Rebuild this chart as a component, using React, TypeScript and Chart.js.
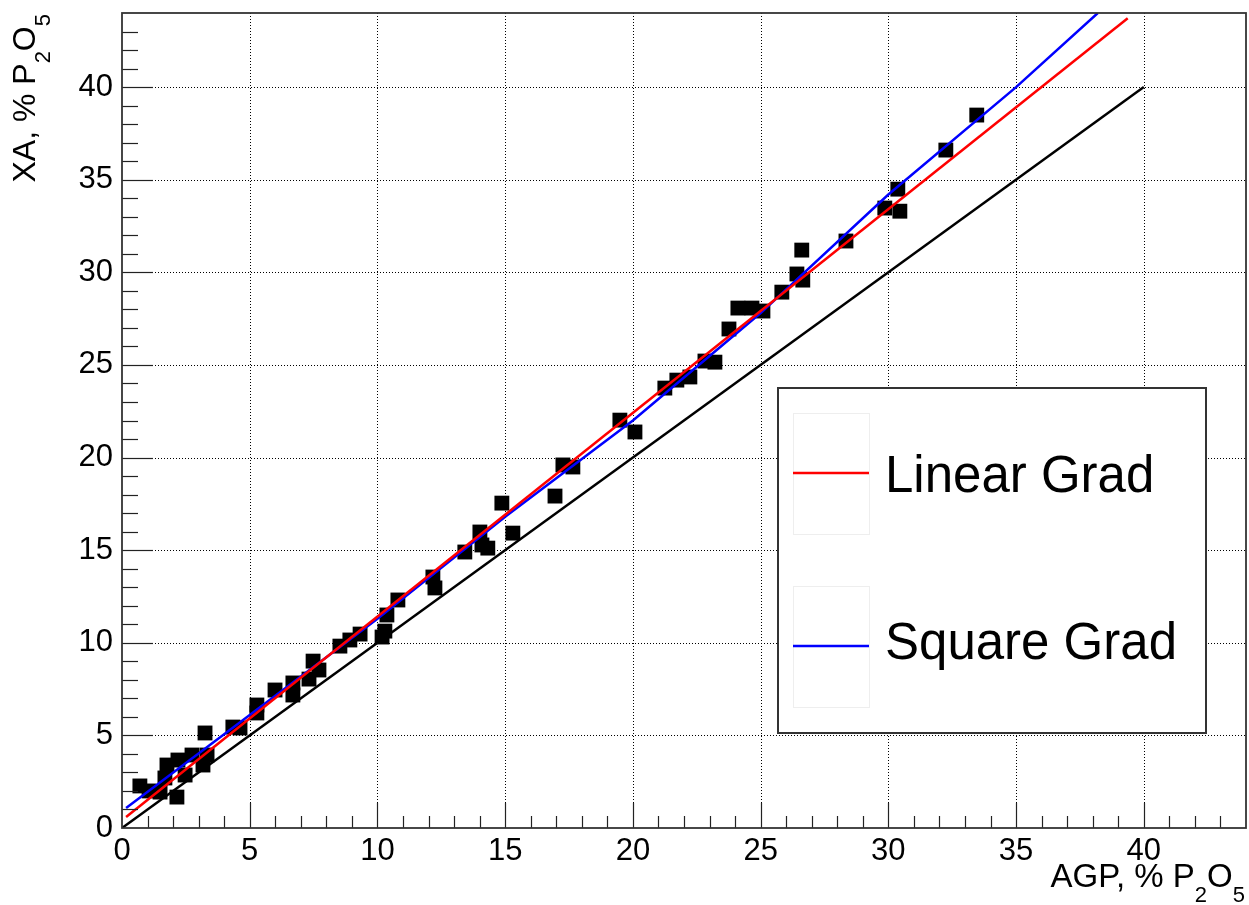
import React, { useEffect, useRef } from "react";
import { Chart, registerables } from "chart.js";

Chart.register(...registerables);

// Measured points (AGP vs XA, % P2O5)
const agpValues = [
  0.70, 1.06, 1.49, 1.68, 1.76, 2.19, 2.15, 2.47, 2.74, 3.25, 3.17, 3.33, 4.34, 4.62,
  5.28, 5.28, 5.99, 6.69, 6.69, 7.32, 7.48, 7.71, 8.53, 8.92, 9.32, 10.18, 10.29, 10.37,
  10.80, 12.17, 12.25, 13.42, 14.01, 14.09, 14.32, 14.87, 15.30, 16.95, 17.26, 17.65,
  19.49, 20.08, 21.25, 21.72, 22.23, 22.82, 23.21, 23.76, 24.11, 24.66, 25.09, 25.83,
  26.42, 26.61, 26.65, 28.34, 29.86, 30.37, 30.45, 32.25, 33.46,
];
const xaValues = [
  2.27, 2.00, 1.94, 2.70, 3.40, 3.67, 1.67, 2.86, 3.94, 5.13, 3.40, 3.94, 5.45, 5.40,
  6.64, 6.21, 7.45, 7.83, 7.18, 8.04, 9.01, 8.53, 9.82, 10.15, 10.47, 10.31, 10.63, 11.50,
  12.31, 13.55, 12.96, 14.90, 15.98, 15.28, 15.11, 17.54, 15.92, 17.92, 19.60, 19.49,
  22.02, 21.38, 23.75, 24.18, 24.35, 25.21, 25.15, 26.94, 28.07, 28.07, 27.91, 28.93,
  29.91, 31.20, 29.58, 31.69, 33.47, 34.49, 33.30, 36.60, 38.49,
];

// Reference line y = x
const diagX = [0, 40];
const diagY = [0, 40];

// Linear gradation line
const linearX = [0.16, 39.37];
const linearY = [0.59, 43.72];

// Square gradation curve
const squareX = [0.16, 5, 10, 15, 20, 25, 30, 35, 38.2];
const squareY = [1.08, 6.1, 11.3, 16.8, 22.0, 27.8, 34.2, 40.0, 44.0];

const axisTicks = [0, 5, 10, 15, 20, 25, 30, 35, 40];
const legendLabels = ["Linear Grad", "Square Grad"];

const FONT = "'Liberation Sans', Arial, Helvetica, sans-serif";

function pts(xs: number[], ys: number[]) {
  return xs.map((x, i) => ({ x, y: ys[i] }));
}

function drawSubText(
  ctx: CanvasRenderingContext2D,
  parts: { t: string; sub: boolean }[],
  endX: number,
  baseY: number,
  size: number,
  subSize: number,
  subOff: number
) {
  const widths = parts.map((p) => {
    ctx.font = `${p.sub ? subSize : size}px ${FONT}`;
    return ctx.measureText(p.t).width;
  });
  const total = widths.reduce((a, b) => a + b, 0);
  let x = endX - total;
  ctx.textAlign = "left";
  ctx.textBaseline = "alphabetic";
  parts.forEach((p, i) => {
    ctx.font = `${p.sub ? subSize : size}px ${FONT}`;
    ctx.fillText(p.t, x, baseY + (p.sub ? subOff : 0));
    x += widths[i];
  });
}

const rootPlugin = {
  id: "rootStyle",
  beforeDatasetsDraw(chart: any) {
    const { ctx, chartArea: a, scales } = chart;
    const xs = scales.x;
    const ys = scales.y;
    ctx.save();
    ctx.strokeStyle = "#000";
    ctx.lineWidth = 1;
    ctx.setLineDash([1, 2]);
    axisTicks.forEach((v) => {
      if (v === 0) return;
      const px = Math.round(xs.getPixelForValue(v)) + 0.5;
      ctx.beginPath();
      ctx.moveTo(px, a.top);
      ctx.lineTo(px, a.bottom);
      ctx.stroke();
      const py = Math.round(ys.getPixelForValue(v)) + 0.5;
      ctx.beginPath();
      ctx.moveTo(a.left, py);
      ctx.lineTo(a.right, py);
      ctx.stroke();
    });
    ctx.restore();
  },
  afterDatasetsDraw(chart: any) {
    const { ctx, chartArea: a, scales } = chart;
    const xs = scales.x;
    const ys = scales.y;
    ctx.save();
    ctx.strokeStyle = "#222";
    ctx.lineWidth = 1.2;
    for (let v = 1; v < 44; v++) {
      const major = v % 5 === 0;
      const px = Math.round(xs.getPixelForValue(v)) + 0.5;
      ctx.beginPath();
      ctx.moveTo(px, a.bottom);
      ctx.lineTo(px, a.bottom - (major ? 25 : 12));
      ctx.stroke();
      const py = Math.round(ys.getPixelForValue(v)) + 0.5;
      ctx.beginPath();
      ctx.moveTo(a.left, py);
      ctx.lineTo(a.left + (major ? 31 : 16), py);
      ctx.stroke();
    }
    ctx.lineWidth = 1.8;
    ctx.strokeStyle = "#333";
    ctx.strokeRect(a.left, a.top, a.right - a.left, a.bottom - a.top);
    ctx.restore();
  },
  afterDraw(chart: any) {
    const { ctx, chartArea: a } = chart;
    ctx.save();
    ctx.fillStyle = "#000";
    // X axis title
    drawSubText(
      ctx,
      [
        { t: "AGP, % P", sub: false },
        { t: "2", sub: true },
        { t: "O", sub: false },
        { t: "5", sub: true },
      ],
      a.right - 1,
      887,
      33,
      22,
      15
    );
    // Y axis title (rotated)
    ctx.save();
    ctx.translate(35, a.top + 1);
    ctx.rotate(-Math.PI / 2);
    drawSubText(
      ctx,
      [
        { t: "XA, % P", sub: false },
        { t: "2", sub: true },
        { t: "O", sub: false },
        { t: "5", sub: true },
      ],
      0,
      0,
      32,
      22,
      15
    );
    ctx.restore();

    // Legend box
    ctx.fillStyle = "#fff";
    ctx.fillRect(778, 388, 428, 345);
    ctx.strokeStyle = "#333";
    ctx.lineWidth = 2;
    ctx.strokeRect(778, 388, 428, 345);
    const entries = [
      { label: legendLabels[0], color: "#ff0000", boxTop: 413, lineY: 473, base: 492 },
      { label: legendLabels[1], color: "#0000ff", boxTop: 586, lineY: 646, base: 659 },
    ];
    entries.forEach((e) => {
      ctx.strokeStyle = "#eeeeee";
      ctx.lineWidth = 1;
      ctx.strokeRect(793.5, e.boxTop + 0.5, 76, 121);
      ctx.strokeStyle = e.color;
      ctx.lineWidth = 2.5;
      ctx.beginPath();
      ctx.moveTo(793, e.lineY);
      ctx.lineTo(869, e.lineY);
      ctx.stroke();
      ctx.fillStyle = "#000";
      ctx.font = `51px ${FONT}`;
      ctx.textAlign = "left";
      ctx.textBaseline = "alphabetic";
      ctx.fillText(e.label, 885, e.base);
    });
    ctx.restore();
  },
};

export default function App() {
  const ref = useRef<HTMLCanvasElement | null>(null);

  useEffect(() => {
    document.body.style.margin = "0";
    document.body.style.background = "#fff";
    const canvas = ref.current;
    if (!canvas) return;
    const chart = new Chart(canvas, {
      type: "scatter",
      data: {
        datasets: [
          {
            label: "diag",
            data: pts(diagX, diagY),
            showLine: true,
            borderColor: "#000",
            borderWidth: 2.5,
            pointRadius: 0,
            order: 1,
          },
          {
            label: legendLabels[0],
            data: pts(linearX, linearY),
            showLine: true,
            borderColor: "#ff0000",
            borderWidth: 2.5,
            pointRadius: 0,
            order: 0,
          },
          {
            label: legendLabels[1],
            data: pts(squareX, squareY),
            showLine: true,
            borderColor: "#0000ff",
            borderWidth: 2.5,
            pointRadius: 0,
            order: 0,
          },
          {
            label: "data",
            data: pts(agpValues, xaValues),
            pointStyle: "rect",
            pointRadius: 10.5,
            pointBackgroundColor: "#000",
            pointBorderWidth: 0,
            pointBorderColor: "#000",
            showLine: false,
            order: 5,
          },
        ],
      },
      options: {
        responsive: false,
        animation: false,
        devicePixelRatio: 1,
        layout: { autoPadding: false, padding: { top: 13, right: 3, left: 0, bottom: 0 } },
        plugins: {
          legend: { display: false },
          tooltip: { enabled: false },
        },
        scales: {
          x: {
            type: "linear",
            min: 0,
            max: 44,
            grid: { display: false },
            border: { display: false },
            afterBuildTicks: (s: any) => {
              s.ticks = axisTicks.map((v) => ({ value: v }));
            },
            afterFit: (s: any) => {
              s.height = 77;
              s.paddingLeft = 0;
              s.paddingRight = 0;
            },
            ticks: {
              color: "#000",
              font: { family: FONT, size: 31 },
              padding: -3,
              maxRotation: 0,
              autoSkip: false,
            },
          },
          y: {
            type: "linear",
            min: 0,
            max: 44,
            grid: { display: false },
            border: { display: false },
            afterBuildTicks: (s: any) => {
              s.ticks = axisTicks.map((v) => ({ value: v }));
            },
            afterFit: (s: any) => {
              s.width = 122;
              s.paddingTop = 0;
              s.paddingBottom = 0;
            },
            ticks: {
              color: "#000",
              font: { family: FONT, size: 31 },
              padding: 1,
              autoSkip: false,
            },
          },
        },
      },
      plugins: [rootPlugin],
    });
    return () => chart.destroy();
  }, []);

  return <canvas ref={ref} width={1249} height={905} style={{ display: "block" }} />;
}
